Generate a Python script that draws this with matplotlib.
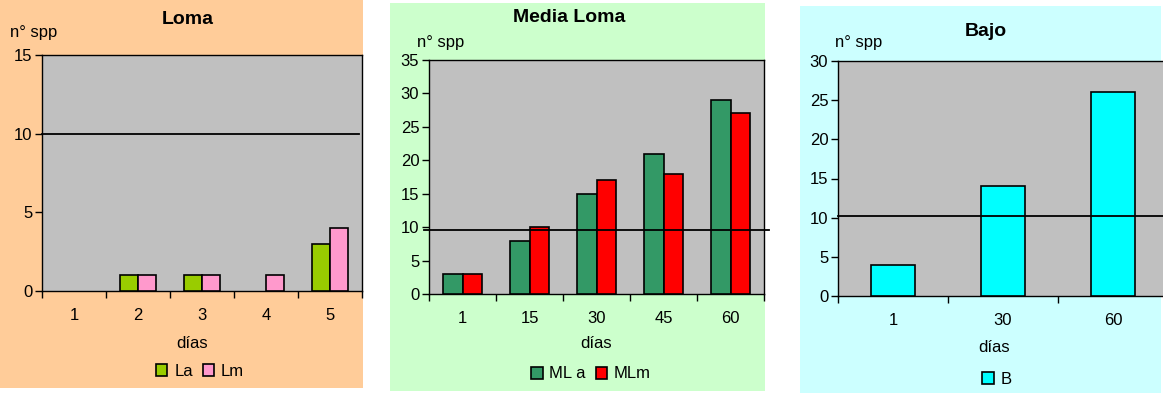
import numpy as np
import matplotlib
matplotlib.use("Agg")
import matplotlib.pyplot as plt
from matplotlib.patches import Rectangle, Patch

plt.rcParams['font.family'] = ['Liberation Sans', 'DejaVu Sans']

# datos
loma_cats = ['1', '2', '3', '4', '5']
loma_la = [0, 1, 1, 0, 3]
loma_lm = [0, 1, 1, 1, 4]
loma_ref = 10

media_cats = ['1', '15', '30', '45', '60']
media_mla = [3, 8, 15, 21, 29]
media_mlm = [3, 10, 17, 18, 27]
media_ref = 9.6

bajo_cats = ['1', '30', '60']
bajo_b = [4, 14, 26]
bajo_ref = 10.2

W, H = 1163, 393
fig = plt.figure(figsize=(W / 100, H / 100), dpi=100)


def rect(l, t, r, b):
    return [l / W, 1 - b / H, (r - l) / W, (b - t) / H]


def fx(x):
    return x / W


def fy(y):
    return 1 - y / H


def background(l, t, r, b, color):
    fig.patches.append(Rectangle((l / W, 1 - b / H), (r - l) / W, (b - t) / H,
                                 transform=fig.transFigure, facecolor=color,
                                 edgecolor='none', zorder=-10))


def panel(box, cats, series, colors, labels, ymax, ystep, ref, ref_span, width):
    ax = fig.add_axes(rect(*box))
    ax.set_facecolor('#C0C0C0')
    x = np.arange(len(cats))
    n = len(series)
    for i, (vals, c) in enumerate(zip(series, colors)):
        off = (i - (n - 1) / 2) * width
        bars = ax.bar(x + off, vals, width, color=c, edgecolor='black', linewidth=1.2,
                      zorder=3)
        for p, v in zip(bars.patches, vals):
            if v == 0:
                p.set_visible(False)  # excel no dibuja barras en cero
    ax.axhline(ref, ref_span[0], ref_span[1], color='black', lw=1.3, zorder=4,
               clip_on=False)
    ax.set_xlim(-0.5, len(cats) - 0.5)
    ax.set_ylim(0, ymax)
    ax.set_yticks(np.arange(0, ymax + 0.1, ystep))
    ax.set_xticks(x)
    ax.set_xticklabels(cats)
    ax.set_xticks(np.arange(len(cats) + 1) - 0.5, minor=True)
    ax.tick_params(axis='x', which='major', length=0, pad=12, labelsize=12)
    ax.tick_params(axis='x', which='minor', length=5, width=1, direction='out')
    ax.tick_params(axis='y', length=5, width=1, direction='out', pad=2, labelsize=12)
    for s in ax.spines.values():
        s.set_color('black')
        s.set_linewidth(1)
    handles = [Patch(facecolor=c, edgecolor='black', linewidth=1.2, label=lab)
               for c, lab in zip(colors, labels)]
    return ax, handles


def legend(ax, handles, cx, cy):
    ax.legend(handles=handles, loc='center', bbox_to_anchor=(fx(cx), fy(cy)),
              bbox_transform=fig.transFigure, ncol=len(handles), frameon=False,
              fontsize=12, handlelength=0.7, handleheight=0.7, handletextpad=0.4,
              columnspacing=0.6, borderpad=0)


# Loma
background(0, 0, 363, 388, '#FFCC99')
ax1, h1 = panel((42, 55, 362, 291), loma_cats, [loma_la, loma_lm],
                ['#99CC00', '#FF99CC'], ['La', 'Lm'], 15, 5, loma_ref, (0, 0.99), 1 / 3.5)
fig.text(fx(188), fy(19), 'Loma', ha='center', va='center', fontsize=14, fontweight='bold')
fig.text(fx(10), fy(33), 'n° spp', ha='left', va='center', fontsize=12)
fig.text(fx(192), fy(343), 'días', ha='center', va='center', fontsize=12)
legend(ax1, h1, 200, 371)

# Media Loma
background(390, 3, 765, 391, '#CCFFCC')
ax2, h2 = panel((429, 60, 764, 294), media_cats, [media_mla, media_mlm],
                ['#339966', '#FF0000'], ['ML a', 'MLm'], 35, 5, media_ref,
                (-0.015, 1.015), 1 / 3.5)
fig.text(fx(569), fy(17), 'Media Loma', ha='center', va='center', fontsize=14, fontweight='bold')
fig.text(fx(417), fy(42), 'n° spp', ha='left', va='center', fontsize=12)
fig.text(fx(596), fy(343), 'días', ha='center', va='center', fontsize=12)
legend(ax2, h2, 591, 374)

# Bajo
background(800, 6, 1161, 393, '#CCFFFF')
ax3, h3 = panel((838, 61, 1168, 296), bajo_cats, [bajo_b],
                ['#00FFFF'], ['B'], 30, 5, bajo_ref, (0, 1), 0.4)
fig.text(fx(986), fy(32), 'Bajo', ha='center', va='center', fontsize=14, fontweight='bold')
fig.text(fx(835), fy(43), 'n° spp', ha='left', va='center', fontsize=12)
fig.text(fx(994), fy(348), 'días', ha='center', va='center', fontsize=12)
legend(ax3, h3, 997, 379)

fig.savefig('out.png', dpi=100)
